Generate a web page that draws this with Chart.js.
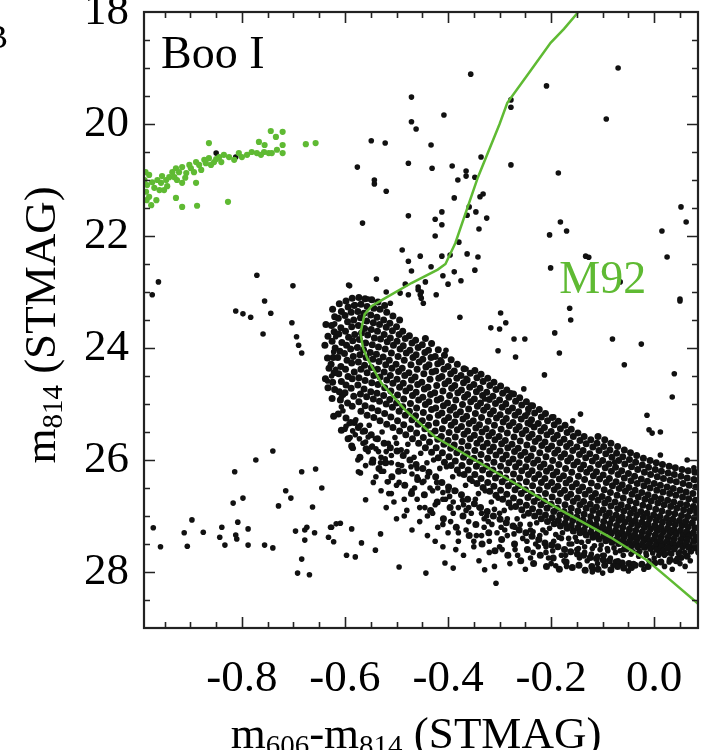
<!DOCTYPE html>
<html>
<head>
<meta charset="utf-8">
<script src="https://cdn.jsdelivr.net/npm/chart.js@4.4.1/dist/chart.umd.min.js"></script>
<style>
  html, body { margin: 0; padding: 0; background: #fff; overflow: hidden; }
  #cmd { display: block; }
</style>
</head>
<body>
<canvas id="cmd" width="702" height="750"></canvas>
<script>
// Axis ranges and tick labels
const xRange = [-0.99, 0.085];
const yRange = [18, 29];
const xTickValues = [-0.8, -0.6, -0.4, -0.2, 0.0];
const yTickValues = [18, 20, 22, 24, 26, 28];

// M92 fiducial ridge line (color, magnitude)
const m92Ridge = [
  [-0.14, 17.85], [-0.149, 18.02], [-0.175, 18.3], [-0.201, 18.55], [-0.24, 19.05],
  [-0.285, 19.62], [-0.30, 20.0], [-0.342, 20.95], [-0.386, 22.13], [-0.405, 22.5],
  [-0.42, 22.6], [-0.471, 22.84], [-0.522, 23.11], [-0.548, 23.25], [-0.562, 23.4],
  [-0.570, 23.73], [-0.565, 24.0], [-0.556, 24.2], [-0.529, 24.63], [-0.483, 25.11],
  [-0.425, 25.59], [-0.348, 26.0], [-0.271, 26.41], [-0.182, 26.89], [-0.085, 27.38],
  [-0.014, 27.79], [0.031, 28.14], [0.083, 28.55], [0.10, 28.7]
];

// Horizontal branch stars (green)
const hbStars = [
  [-0.989,21.0],[-0.984,21.09],[-0.986,21.21],[-0.974,21.04],[-0.964,21.0],[-0.957,21.05],[-0.947,21.0],
  [-0.970,21.14],[-0.980,21.30],[-0.966,21.36],[-0.976,21.45],[-0.941,20.95],[-0.935,20.86],[-0.928,20.79],
  [-0.922,20.86],[-0.916,20.77],[-0.908,20.875],[-0.899,20.79],[-0.889,20.68],[-0.883,20.73],[-0.873,20.64],
  [-0.864,20.61],[-0.854,20.68],[-0.844,20.59],[-0.835,20.55],[-0.825,20.59],[-0.800,20.59],[-0.790,20.55],
  [-0.781,20.5],[-0.771,20.52],[-0.757,20.5],[-0.748,20.52],[-0.742,20.52],[-0.721,20.52],[-0.721,20.375],
  [-0.734,20.23],[-0.744,20.125],[-0.721,20.14],[-0.767,20.32],[-0.864,20.34],[-0.676,20.36],[-0.657,20.34],
  [-0.916,21.05],[-0.889,21.05],[-0.928,21.32],[-0.916,21.48],[-0.887,21.46],[-0.827,21.39],[-0.931,20.95],
  [-0.902,20.73],[-0.870,20.70],[-0.850,20.625],[-0.987,20.86],[-0.985,21.36],[-0.980,20.91],[-0.960,21.18],
  [-0.951,21.18],[-0.945,21.11],[-0.955,20.93],[-0.926,21.0],[-0.910,20.96],[-0.893,20.86],[-0.879,20.82],
  [-0.860,20.73],[-0.840,20.68],[-0.815,20.64],[-0.806,20.52],[-0.763,20.55],[-0.732,20.46],[-0.756,20.375]
];

// Sparse field / outlying stars (black)
const fieldStars = [
  [-0.962,22.82],[-0.974,23.05],[-0.771,22.70],[-0.756,23.16],[-0.744,23.38],[-0.812,23.34],[-0.798,23.39],
  [-0.783,23.45],[-0.759,23.75],[-0.701,22.89],[-0.703,23.55],[-0.694,23.80],[-0.690,23.95],[-0.684,24.09],
  [-0.620,23.57],[-0.618,23.80],[-0.622,24.07],[-0.618,24.38],[-0.626,24.50],[-0.634,24.59],
  [-0.972,27.21],[-0.958,27.55],[-0.912,27.30],[-0.906,27.54],[-0.897,27.07],[-0.875,27.29],[-0.839,27.20],
  [-0.843,27.38],[-0.833,27.52],[-0.814,26.21],[-0.817,26.77],[-0.798,26.68],[-0.808,27.11],[-0.812,27.34],
  [-0.810,27.41],[-0.788,27.23],[-0.788,27.52],[-0.773,26.0],[-0.740,25.84],[-0.756,27.52],[-0.740,27.57],
  [-0.729,26.82],[-0.715,26.55],[-0.705,26.68],[-0.696,27.27],[-0.684,26.21],[-0.657,26.16],[-0.645,26.50],
  [-0.663,26.84],[-0.678,27.25],[-0.674,27.20],[-0.678,27.43],[-0.659,27.30],[-0.684,27.77],[-0.692,28.02],
  [-0.669,28.05],[-0.632,27.38],[-0.626,27.20],[-0.622,27.46],[-0.617,27.14],[-0.587,27.23],[-0.597,27.70],
  [-0.580,27.73],[-0.589,25.34],[-0.586,25.79],
  [-0.408,19.84],[-0.471,19.96],[-0.462,20.09],[-0.549,20.30],[-0.522,20.34],[-0.433,20.375],[-0.576,20.77],
  [-0.477,20.70],[-0.431,20.79],[-0.392,20.75],[-0.365,20.84],[-0.365,20.93],[-0.348,20.95],[-0.381,21.0],
  [-0.336,20.59],[-0.543,21.0],[-0.543,21.07],[-0.520,21.20],[-0.388,21.32],[-0.338,21.30],[-0.332,21.25],
  [-0.359,21.48],[-0.346,21.57],[-0.325,21.68],[-0.363,21.63],[-0.566,21.77],[-0.477,21.64],[-0.425,21.70],
  [-0.412,21.57],[-0.412,21.80],[-0.425,22.0],[-0.340,21.875],[-0.379,22.11],[-0.489,22.25],[-0.454,22.36],
  [-0.477,22.45],[-0.412,22.36],[-0.396,22.34],[-0.363,22.32],[-0.342,22.375],[-0.348,22.61],[-0.388,22.64],
  [-0.375,22.80],[-0.410,22.71],[-0.400,22.86],[-0.433,22.55],[-0.471,22.625],[-0.539,22.77],[-0.591,22.89],
  [-0.483,22.86],[-0.458,22.91],[-0.452,23.0],[-0.444,22.82],[-0.520,23.0],[-0.512,23.20],[-0.555,23.125],
  [-0.423,23.05],[-0.477,23.05],[-0.454,23.05],[-0.493,23.02],[-0.580,23.23],[-0.458,22.96],[-0.452,23.11],
  [-0.448,23.2],[-0.471,19.52],[-0.356,19.11],
  [-0.070,19.0],[-0.209,19.32],[-0.278,19.57],[-0.278,19.70],[-0.093,19.91],[-0.278,20.73],[-0.186,20.875],
  [0.052,21.48],[0.062,21.75],[-0.182,21.75],[-0.170,21.91],[-0.203,21.98],[0.015,21.91],[0.025,22.375],
  [-0.133,22.36],[-0.127,22.38],[-0.201,22.57],[-0.066,22.82],[0.050,23.125],
  [-0.377,23.45],[-0.298,23.375],[-0.288,23.55],[-0.317,23.64],[-0.300,23.66],[-0.164,23.29],[-0.162,23.5],
  [0.050,23.16],[-0.272,23.84],[-0.251,23.84],[-0.193,23.73],[-0.303,24.05],[-0.269,24.16],[-0.184,24.09],
  [-0.081,23.84],[-0.025,23.93],[-0.058,24.30],[-0.213,24.48],[0.039,24.46],[0.035,24.875],[-0.014,25.20],
  [-0.143,25.18],[-0.158,25.30],[-0.195,25.23],[0.012,25.5],[0.012,25.91],[0.064,26.0],[0.077,26.14],
  [-0.077,26.04],[-0.245,25.16],[-0.240,25.375],[-0.332,24.59],[-0.253,24.73],[-0.240,25.02],[-0.278,24.80],
  [-0.288,24.98],[-0.329,24.91],[-0.365,24.375],[-0.365,24.54],[-0.404,24.04],[-0.415,24.21],
  [-0.593,22.875],[-0.603,24.84],[-0.589,25.32],[-0.584,25.79],[-0.570,26.23],[-0.549,26.05],[-0.531,26.05],
  [-0.518,26.39],[-0.560,26.71],[-0.628,27.2],[-0.609,27.13],[-0.531,27.32],[-0.568,27.48],[-0.541,27.61],
  [-0.495,27.91],[-0.443,28.02],[-0.406,27.84],[-0.390,27.93],[-0.329,27.96],[-0.307,28.20],[-0.191,27.89],
  [-0.120,27.96],[-0.100,28.02],[-0.046,27.91],
  [-0.010,25.46],[-0.004,25.52],[0.079,26.36],[0.079,26.86],[-0.043,27.93],[0.029,27.82],
  [-0.607,24.875],[-0.607,25.05],[-0.570,25.38],[-0.555,25.59],[-0.549,25.77],[-0.587,25.77],[-0.545,26.05],
  [-0.574,26.21],[-0.516,26.39],
  [-0.850,20.52],[-0.812,20.59]
];

// Stars scattered below the main band (binaries / photometric scatter)
const lowerStars = [
  [-0.54,26.3],[-0.53,26.55],[-0.52,26.85],[-0.51,26.6],[-0.5,27.05],[-0.495,26.4],[-0.48,26.9],[-0.47,27.25],
  [-0.46,26.7],[-0.455,27.1],[-0.44,27.35],[-0.43,26.95],[-0.42,27.2],[-0.41,27.55],[-0.4,27.3],[-0.39,26.95],
  [-0.38,27.45],[-0.37,27.7],[-0.36,27.1],[-0.35,27.55],[-0.34,27.8],[-0.33,27.2],[-0.32,27.65],[-0.31,27.9],
  [-0.3,27.55],[-0.29,27.25],[-0.28,27.85],[-0.27,27.6],[-0.25,27.95],[-0.24,27.75],[-0.23,27.5],[-0.21,27.65],
  [-0.2,27.85],[-0.18,27.7],[-0.17,27.9],[-0.15,27.6],[-0.13,27.8],[-0.12,28.0],[-0.1,27.7],[-0.08,27.88],
  [-0.06,27.7],[-0.05,27.98],[-0.03,27.72],[-0.02,27.95],[0.0,27.75],[0.02,27.7],[0.035,27.95],[0.05,27.85],
  [0.07,27.8],[0.085,27.65],[-0.525,26.2],[-0.505,26.75],[-0.485,27.0],[-0.465,26.5],[-0.445,26.85],
  [-0.425,27.45],[-0.405,26.7],[-0.385,27.6],[-0.365,26.9],[-0.345,27.35],[-0.325,27.0],[-0.305,27.3],
  [-0.6,25.45],[-0.59,25.6],[-0.58,25.55],[-0.565,25.7],[-0.555,25.85],[-0.54,25.8],[-0.53,25.95],[-0.52,25.85],
  [-0.51,26.05],[-0.5,25.7],[-0.49,26.1],[-0.48,25.85],[-0.47,26.25],[-0.46,26.15],[-0.45,26.4],[-0.44,26.3],
  [-0.43,26.55],[-0.42,26.5],[-0.41,26.7],[-0.4,26.55],[-0.39,26.75],[-0.38,26.85],[-0.37,26.8],[-0.355,26.95],
  [-0.34,26.85],[-0.33,27.05],[-0.315,27.15],[-0.3,26.95],[-0.285,27.35],[-0.27,27.2],[-0.255,27.4],[-0.24,27.25],
  [-0.225,27.55],[-0.21,27.3],[-0.195,27.45],[-0.18,27.4],[-0.165,27.5],[-0.15,27.45],[-0.135,27.55],[-0.12,27.58],
  [-0.105,27.6],[-0.09,27.62],[-0.075,27.65],[-0.06,27.6],[-0.045,27.68],[-0.03,27.65],[-0.015,27.7],[0.01,27.68],
  [0.03,27.66],[0.05,27.64],[0.07,27.63],
  [-0.575,26.0],[-0.56,26.1],[-0.545,26.4],[-0.53,26.2],[-0.515,26.6],[-0.5,26.45],[-0.485,26.7],[-0.47,26.55],
  [-0.455,26.85],[-0.44,27.0],[-0.425,26.8],[-0.41,27.15],[-0.395,27.1],[-0.38,27.3],[-0.365,27.25],[-0.35,27.45],
  [-0.335,27.35],[-0.32,27.45],[-0.295,27.6],[-0.265,27.7],[-0.235,27.65],[-0.205,27.75],[-0.175,27.8],[-0.145,27.75],
  [-0.11,27.85],[-0.07,27.8],[-0.04,27.85],[-0.01,27.8],[0.02,27.9],[0.045,27.75],[0.06,27.9],
  [-0.604,25.12],[-0.592,25.35],[-0.579,25.28],[-0.566,25.5],[-0.553,25.38],[-0.541,25.62],[-0.528,25.5],[-0.516,25.7],
  [-0.503,25.6],[-0.491,25.82],[-0.478,25.72],[-0.466,25.95],[-0.453,25.88],[-0.441,26.05],[-0.428,26.0],[-0.416,26.15],
  [-0.403,26.12],[-0.391,26.3],[-0.378,26.25],[-0.366,26.45],[-0.353,26.38],[-0.341,26.6],[-0.328,26.55],[-0.316,26.75],
  [-0.303,26.68],[-0.291,26.9],[-0.278,26.85],[-0.266,27.05],[-0.253,27.0],[-0.241,27.15],[-0.228,27.12],[-0.216,27.25],
  [-0.203,27.22],[-0.191,27.33],[-0.178,27.3],[-0.166,27.4],[-0.153,27.38],[-0.141,27.47],[-0.128,27.45],[-0.116,27.53],
  [-0.103,27.52],[-0.091,27.58],[-0.078,27.57],[-0.066,27.62],[-0.053,27.6],[-0.041,27.64],[-0.028,27.63],[-0.016,27.66],
  [-0.003,27.66],[0.009,27.7],[0.022,27.68],[0.034,27.68],[0.047,27.67],[0.059,27.65],[0.072,27.64],
  [-0.598,25.4],[-0.585,25.48],[-0.572,25.62],[-0.56,25.68],[-0.547,25.75],[-0.535,25.85],[-0.522,25.98],[-0.51,25.92],
  [-0.497,26.08],[-0.485,26.2],[-0.472,26.12],[-0.46,26.3],[-0.447,26.38],[-0.435,26.5],[-0.422,26.4],[-0.41,26.58],
  [-0.397,26.65],[-0.385,26.55],[-0.372,26.72],[-0.36,26.85],[-0.347,26.7],[-0.335,26.95],[-0.322,27.1],[-0.31,26.88],
  [-0.297,27.2],[-0.285,27.05],[-0.272,27.32],[-0.26,27.15],[-0.247,27.45],[-0.235,27.28],[-0.222,27.35],[-0.21,27.55],
  [-0.197,27.62],[-0.185,27.38],[-0.172,27.7],[-0.16,27.5],[-0.147,27.58],[-0.135,27.65],[-0.122,27.68],[-0.11,27.72],
  [-0.097,27.7],[-0.085,27.75]
];

// Main sequence / turnoff band (black, dense)
const bandStars = [
  [-0.637,23.58],[-0.633,23.79],[-0.639,23.95],[-0.634,24.18],[-0.631,24.36],[-0.638,24.55],[-0.633,24.71],
  [-0.624,23.31],[-0.620,23.44],[-0.626,23.6],[-0.621,23.71],[-0.625,23.88],[-0.619,24.0],[-0.623,24.17],[-0.627,24.29],[-0.621,24.44],[-0.624,24.61],[-0.620,24.74],[-0.625,24.9],[-0.622,25.22],
  [-0.611,23.21],[-0.607,23.35],[-0.613,23.47],[-0.608,23.64],[-0.612,23.75],[-0.606,23.9],[-0.61,24.06],[-0.614,24.17],[-0.608,24.33],[-0.612,24.46],[-0.607,24.6],[-0.611,24.78],[-0.609,24.93],[-0.613,25.18],[-0.607,25.47],
  [-0.598,23.16],[-0.594,23.27],[-0.6,23.42],[-0.595,23.53],[-0.599,23.7],[-0.593,23.81],[-0.597,23.95],[-0.601,24.1],[-0.596,24.22],[-0.599,24.38],[-0.594,24.51],[-0.598,24.66],[-0.6,24.8],[-0.595,24.98],[-0.598,25.25],[-0.594,25.62],
  [-0.586,23.11],[-0.582,23.24],[-0.588,23.36],[-0.583,23.5],[-0.587,23.62],[-0.581,23.76],[-0.585,23.87],[-0.589,24.02],[-0.584,24.15],[-0.587,24.27],[-0.582,24.43],[-0.586,24.55],[-0.588,24.72],[-0.583,24.86],[-0.586,25.04],[-0.582,25.33],[-0.587,25.75],
  [-0.573,23.1],[-0.569,23.22],[-0.575,23.35],[-0.57,23.46],[-0.574,23.6],[-0.568,23.73],[-0.572,23.85],[-0.576,23.99],[-0.571,24.12],[-0.574,24.25],[-0.569,24.38],[-0.573,24.53],[-0.575,24.66],[-0.57,24.82],[-0.573,24.96],[-0.569,25.13],[-0.574,25.42],[-0.571,25.95],
  [-0.561,23.12],[-0.557,23.26],[-0.563,23.38],[-0.558,23.52],[-0.562,23.65],[-0.556,23.77],[-0.56,23.91],[-0.564,24.03],[-0.559,24.17],[-0.562,24.31],[-0.557,24.44],[-0.561,24.58],[-0.563,24.73],[-0.558,24.87],[-0.561,25.03],[-0.557,25.2],[-0.562,25.48],[-0.559,25.8],
  [-0.548,23.14],[-0.544,23.29],[-0.55,23.41],[-0.545,23.55],[-0.549,23.67],[-0.543,23.82],[-0.547,23.94],[-0.551,24.08],[-0.546,24.2],[-0.549,24.35],[-0.544,24.49],[-0.548,24.62],[-0.55,24.78],[-0.545,24.91],[-0.548,25.07],[-0.544,25.24],[-0.549,25.55],[-0.546,26.0],
  [-0.536,23.18],[-0.532,23.31],[-0.538,23.45],[-0.533,23.58],[-0.537,23.7],[-0.531,23.84],[-0.535,23.98],[-0.539,24.11],[-0.534,24.24],[-0.537,24.38],[-0.532,24.52],[-0.536,24.65],[-0.538,24.81],[-0.533,24.95],[-0.536,25.12],[-0.532,25.3],[-0.537,25.62],[-0.534,26.15],
  [-0.523,23.24],[-0.519,23.36],[-0.525,23.5],[-0.52,23.63],[-0.524,23.76],[-0.518,23.89],[-0.522,24.02],[-0.526,24.16],[-0.521,24.3],[-0.524,24.43],[-0.519,24.57],[-0.523,24.71],[-0.525,24.85],[-0.52,25.0],[-0.523,25.17],[-0.519,25.36],[-0.524,25.7],[-0.521,26.05],
  [-0.507,23.43],[-0.513,23.56],[-0.508,23.69],[-0.512,23.82],[-0.506,23.95],[-0.51,24.09],[-0.514,24.22],[-0.509,24.36],[-0.512,24.49],[-0.507,24.63],[-0.511,24.77],[-0.513,24.92],[-0.508,25.06],[-0.511,25.23],[-0.507,25.42],[-0.512,25.78],[-0.509,26.3],
  [-0.494,23.5],[-0.5,23.62],[-0.495,23.76],[-0.499,23.88],[-0.493,24.02],[-0.497,24.15],[-0.501,24.29],[-0.496,24.42],[-0.499,24.56],[-0.494,24.7],[-0.498,24.84],[-0.5,24.98],[-0.495,25.13],[-0.498,25.3],[-0.494,25.48],[-0.499,25.84],[-0.496,26.2],
  [-0.488,23.7],[-0.483,23.83],[-0.487,23.96],[-0.481,24.09],[-0.485,24.22],[-0.489,24.36],[-0.484,24.49],[-0.487,24.63],[-0.482,24.77],[-0.486,24.91],[-0.488,25.05],[-0.483,25.2],[-0.486,25.37],[-0.482,25.55],[-0.487,25.92],[-0.484,26.45],
  [-0.475,23.78],[-0.47,23.91],[-0.474,24.04],[-0.468,24.17],[-0.472,24.3],[-0.476,24.44],[-0.471,24.57],[-0.474,24.71],[-0.469,24.85],[-0.473,24.99],[-0.475,25.13],[-0.47,25.28],[-0.473,25.44],[-0.469,25.62],[-0.474,26.0],[-0.471,26.6],
  [-0.463,23.86],[-0.458,23.99],[-0.462,24.12],[-0.456,24.25],[-0.46,24.38],[-0.464,24.52],[-0.459,24.65],[-0.462,24.79],[-0.457,24.93],[-0.461,25.07],[-0.463,25.21],[-0.458,25.36],[-0.461,25.52],[-0.457,25.7],[-0.462,26.08],[-0.459,26.35],
  [-0.444,23.83],[-0.45,23.94],[-0.445,24.08],[-0.449,24.2],[-0.443,24.34],[-0.447,24.46],[-0.451,24.61],[-0.446,24.73],[-0.449,24.88],[-0.444,25.01],[-0.448,25.15],[-0.45,25.3],[-0.445,25.44],[-0.448,25.6],[-0.444,25.78],[-0.449,26.15],[-0.446,26.62],
  [-0.432,23.92],[-0.438,24.04],[-0.433,24.17],[-0.437,24.3],[-0.431,24.43],[-0.435,24.56],[-0.439,24.7],[-0.434,24.83],[-0.437,24.96],[-0.432,25.1],[-0.436,25.24],[-0.438,25.38],[-0.433,25.53],[-0.436,25.68],[-0.432,25.86],[-0.437,26.22],[-0.434,26.9],
  [-0.419,24.03],[-0.425,24.15],[-0.42,24.28],[-0.424,24.41],[-0.418,24.54],[-0.422,24.67],[-0.426,24.8],[-0.421,24.93],[-0.424,25.07],[-0.419,25.2],[-0.423,25.34],[-0.425,25.48],[-0.42,25.63],[-0.423,25.78],[-0.419,25.96],[-0.424,26.3],[-0.421,26.75],
  [-0.407,24.13],[-0.413,24.25],[-0.408,24.38],[-0.412,24.51],[-0.406,24.64],[-0.41,24.77],[-0.414,24.9],[-0.409,25.03],[-0.412,25.16],[-0.407,25.3],[-0.411,25.44],[-0.413,25.58],[-0.408,25.72],[-0.411,25.87],[-0.407,26.04],[-0.412,26.4],[-0.409,27.05],
  [-0.394,24.21],[-0.4,24.33],[-0.395,24.46],[-0.399,24.59],[-0.393,24.72],[-0.397,24.85],[-0.401,24.98],[-0.396,25.11],[-0.399,25.24],[-0.394,25.38],[-0.398,25.51],[-0.4,25.65],[-0.395,25.79],[-0.398,25.94],[-0.394,26.1],[-0.399,26.48],[-0.396,26.85],
  [-0.382,24.29],[-0.388,24.41],[-0.383,24.54],[-0.387,24.67],[-0.381,24.8],[-0.385,24.93],[-0.389,25.06],[-0.384,25.19],[-0.387,25.32],[-0.382,25.46],[-0.386,25.59],[-0.388,25.73],[-0.383,25.87],[-0.386,26.02],[-0.382,26.18],[-0.387,26.55],[-0.384,27.2],
  [-0.369,24.37],[-0.375,24.49],[-0.37,24.62],[-0.374,24.75],[-0.368,24.88],[-0.372,25.01],[-0.376,25.14],[-0.371,25.27],[-0.374,25.4],[-0.369,25.54],[-0.373,25.67],[-0.375,25.81],[-0.37,25.95],[-0.373,26.1],[-0.369,26.26],[-0.374,26.62],[-0.371,27.0],
  [-0.357,24.45],[-0.363,24.57],[-0.358,24.7],[-0.362,24.83],[-0.356,24.96],[-0.36,25.09],[-0.364,25.22],[-0.359,25.35],[-0.362,25.48],[-0.357,25.62],[-0.361,25.75],[-0.363,25.89],[-0.358,26.03],[-0.361,26.18],[-0.357,26.34],[-0.362,26.7],[-0.359,27.35],
  [-0.348,24.4],[-0.344,24.53],[-0.35,24.65],[-0.345,24.78],[-0.349,24.91],[-0.343,25.04],[-0.347,25.17],[-0.351,25.3],[-0.346,25.43],[-0.349,25.56],[-0.344,25.7],[-0.348,25.83],[-0.35,25.97],[-0.345,26.11],[-0.348,26.26],[-0.344,26.42],[-0.349,26.78],[-0.346,27.15],
  [-0.336,24.47],[-0.332,24.6],[-0.338,24.72],[-0.333,24.85],[-0.337,24.98],[-0.331,25.11],[-0.335,25.24],[-0.339,25.37],[-0.334,25.5],[-0.337,25.63],[-0.332,25.77],[-0.336,25.9],[-0.338,26.04],[-0.333,26.18],[-0.336,26.33],[-0.332,26.49],[-0.337,26.85],[-0.334,27.5],
  [-0.323,24.54],[-0.319,24.67],[-0.325,24.79],[-0.32,24.92],[-0.324,25.05],[-0.318,25.18],[-0.322,25.31],[-0.326,25.44],[-0.321,25.57],[-0.324,25.7],[-0.319,25.84],[-0.323,25.97],[-0.325,26.11],[-0.32,26.25],[-0.323,26.4],[-0.319,26.56],[-0.324,26.92],[-0.321,27.3],
  [-0.311,24.61],[-0.307,24.74],[-0.313,24.86],[-0.308,24.99],[-0.312,25.12],[-0.306,25.25],[-0.31,25.38],[-0.314,25.51],[-0.309,25.64],[-0.312,25.77],[-0.307,25.91],[-0.311,26.04],[-0.313,26.18],[-0.308,26.32],[-0.311,26.47],[-0.307,26.63],[-0.312,27.0],[-0.309,27.62],
  [-0.298,24.68],[-0.294,24.81],[-0.3,24.93],[-0.295,25.06],[-0.299,25.19],[-0.293,25.32],[-0.297,25.45],[-0.301,25.58],[-0.296,25.71],[-0.299,25.84],[-0.294,25.98],[-0.298,26.11],[-0.3,26.25],[-0.295,26.39],[-0.298,26.54],[-0.294,26.7],[-0.299,27.06],[-0.296,27.42],
  [-0.286,24.75],[-0.282,24.88],[-0.288,25.0],[-0.283,25.13],[-0.287,25.26],[-0.281,25.39],[-0.285,25.52],[-0.289,25.65],[-0.284,25.78],[-0.287,25.91],[-0.282,26.05],[-0.286,26.18],[-0.288,26.32],[-0.283,26.46],[-0.286,26.61],[-0.282,26.77],[-0.287,27.12],[-0.284,27.7],
  [-0.273,24.82],[-0.269,24.95],[-0.275,25.07],[-0.27,25.2],[-0.274,25.33],[-0.268,25.46],[-0.272,25.59],[-0.276,25.72],[-0.271,25.85],[-0.274,25.98],[-0.269,26.12],[-0.273,26.25],[-0.275,26.39],[-0.27,26.53],[-0.273,26.68],[-0.269,26.83],[-0.274,27.18],[-0.271,27.5],
  [-0.261,24.89],[-0.257,25.02],[-0.263,25.14],[-0.258,25.27],[-0.262,25.4],[-0.256,25.53],[-0.26,25.66],[-0.264,25.79],[-0.259,25.92],[-0.262,26.05],[-0.257,26.19],[-0.261,26.32],[-0.263,26.46],[-0.258,26.6],[-0.261,26.75],[-0.257,26.89],[-0.262,27.25],[-0.259,27.8],
  [-0.248,24.96],[-0.244,25.09],[-0.25,25.21],[-0.245,25.34],[-0.249,25.47],[-0.243,25.6],[-0.247,25.73],[-0.251,25.86],[-0.246,25.99],[-0.249,26.12],[-0.244,26.26],[-0.248,26.39],[-0.25,26.53],[-0.245,26.67],[-0.248,26.81],[-0.244,26.95],[-0.249,27.3],[-0.246,27.6],
  [-0.236,25.03],[-0.232,25.16],[-0.238,25.28],[-0.233,25.41],[-0.237,25.54],[-0.231,25.67],[-0.235,25.8],[-0.239,25.93],[-0.234,26.06],[-0.237,26.19],[-0.232,26.33],[-0.236,26.46],[-0.238,26.6],[-0.233,26.74],[-0.236,26.87],[-0.232,27.0],[-0.237,27.36],[-0.234,27.85],
  [-0.223,25.1],[-0.219,25.23],[-0.225,25.35],[-0.22,25.48],[-0.224,25.61],[-0.218,25.74],[-0.222,25.87],[-0.226,26.0],[-0.221,26.13],[-0.224,26.26],[-0.219,26.4],[-0.223,26.53],[-0.225,26.67],[-0.22,26.8],[-0.223,26.93],[-0.219,27.05],[-0.224,27.42],[-0.221,27.7],
  [-0.211,25.17],[-0.207,25.3],[-0.213,25.42],[-0.208,25.55],[-0.212,25.68],[-0.206,25.81],[-0.21,25.94],[-0.214,26.07],[-0.209,26.2],[-0.212,26.33],[-0.207,26.47],[-0.211,26.6],[-0.213,26.73],[-0.208,26.86],[-0.211,26.98],[-0.207,27.1],[-0.212,27.48],[-0.209,27.9],
  [-0.198,25.24],[-0.194,25.37],[-0.2,25.49],[-0.195,25.62],[-0.199,25.75],[-0.193,25.88],[-0.197,26.01],[-0.201,26.14],[-0.196,26.27],[-0.199,26.4],[-0.194,26.53],[-0.198,26.66],[-0.2,26.79],[-0.195,26.92],[-0.198,27.03],[-0.194,27.14],[-0.199,27.52],[-0.196,27.75],
  [-0.186,25.31],[-0.182,25.44],[-0.188,25.56],[-0.183,25.69],[-0.187,25.82],[-0.181,25.95],[-0.185,26.08],[-0.189,26.21],[-0.184,26.34],[-0.187,26.47],[-0.182,26.6],[-0.186,26.73],[-0.188,26.86],[-0.183,26.98],[-0.186,27.08],[-0.182,27.18],[-0.187,27.55],[-0.184,27.95],
  [-0.173,25.38],[-0.169,25.51],[-0.175,25.63],[-0.17,25.76],[-0.174,25.89],[-0.168,26.02],[-0.172,26.15],[-0.176,26.28],[-0.171,26.41],[-0.174,26.54],[-0.169,26.67],[-0.173,26.8],[-0.175,26.92],[-0.17,27.03],[-0.173,27.13],[-0.169,27.22],[-0.174,27.6],[-0.171,27.82],
  [-0.161,25.45],[-0.157,25.58],[-0.163,25.7],[-0.158,25.83],[-0.162,25.96],[-0.156,26.09],[-0.16,26.22],[-0.164,26.35],[-0.159,26.48],[-0.162,26.61],[-0.157,26.74],[-0.161,26.86],[-0.163,26.97],[-0.158,27.08],[-0.161,27.17],[-0.157,27.27],[-0.162,27.64],[-0.159,27.92],
  [-0.148,25.52],[-0.144,25.65],[-0.15,25.77],[-0.145,25.9],[-0.149,26.03],[-0.143,26.16],[-0.147,26.29],[-0.151,26.42],[-0.146,26.55],[-0.149,26.68],[-0.144,26.8],[-0.148,26.91],[-0.15,27.02],[-0.145,27.12],[-0.148,27.21],[-0.144,27.3],[-0.149,27.68],[-0.146,27.88],
  [-0.136,25.58],[-0.132,25.71],[-0.138,25.83],[-0.133,25.96],[-0.137,26.09],[-0.131,26.22],[-0.135,26.35],[-0.139,26.48],[-0.134,26.61],[-0.137,26.74],[-0.132,26.86],[-0.136,26.97],[-0.138,27.07],[-0.133,27.16],[-0.136,27.25],[-0.132,27.34],[-0.137,27.7],[-0.134,27.97],
  [-0.123,25.64],[-0.119,25.77],[-0.125,25.89],[-0.12,26.02],[-0.124,26.15],[-0.118,26.28],[-0.122,26.41],[-0.126,26.54],[-0.121,26.67],[-0.124,26.79],[-0.119,26.9],[-0.123,27.01],[-0.125,27.11],[-0.12,27.2],[-0.123,27.29],[-0.119,27.38],[-0.124,27.74],[-0.121,27.9],
  [-0.109,25.58],[-0.111,25.7],[-0.107,25.83],[-0.113,25.95],[-0.108,26.08],[-0.112,26.21],[-0.106,26.34],[-0.11,26.47],[-0.114,26.6],[-0.109,26.72],[-0.112,26.84],[-0.107,26.95],[-0.111,27.05],[-0.113,27.15],[-0.108,27.24],[-0.111,27.32],[-0.107,27.41],[-0.112,27.76],[-0.109,27.95],
  [-0.096,25.64],[-0.098,25.76],[-0.094,25.89],[-0.1,26.01],[-0.095,26.14],[-0.099,26.27],[-0.093,26.4],[-0.097,26.53],[-0.101,26.65],[-0.096,26.77],[-0.099,26.89],[-0.094,27.0],[-0.098,27.1],[-0.1,27.19],[-0.095,27.28],[-0.098,27.36],[-0.094,27.44],[-0.099,27.78],[-0.096,27.88],
  [-0.084,25.7],[-0.086,25.82],[-0.082,25.95],[-0.088,26.07],[-0.083,26.2],[-0.087,26.33],[-0.081,26.46],[-0.085,26.58],[-0.089,26.7],[-0.084,26.82],[-0.087,26.94],[-0.082,27.05],[-0.086,27.14],[-0.088,27.23],[-0.083,27.31],[-0.086,27.39],[-0.082,27.47],[-0.087,27.8],[-0.084,27.96],
  [-0.071,25.76],[-0.073,25.88],[-0.069,26.01],[-0.075,26.13],[-0.07,26.26],[-0.074,26.39],[-0.068,26.51],[-0.072,26.63],[-0.076,26.75],[-0.071,26.87],[-0.074,26.98],[-0.069,27.08],[-0.073,27.17],[-0.075,27.26],[-0.07,27.34],[-0.073,27.42],[-0.069,27.49],[-0.074,27.82],[-0.071,27.9],
  [-0.058,25.82],[-0.061,25.94],[-0.057,26.07],[-0.063,26.19],[-0.058,26.32],[-0.062,26.44],[-0.056,26.56],[-0.06,26.68],[-0.064,26.8],[-0.059,26.91],[-0.062,27.02],[-0.057,27.11],[-0.061,27.2],[-0.063,27.29],[-0.058,27.37],[-0.061,27.44],[-0.057,27.51],[-0.062,27.84],[-0.059,27.93],
  [-0.046,25.87],[-0.048,25.99],[-0.044,26.12],[-0.05,26.24],[-0.045,26.37],[-0.049,26.49],[-0.043,26.61],[-0.047,26.73],[-0.051,26.84],[-0.046,26.95],[-0.049,27.05],[-0.044,27.14],[-0.048,27.23],[-0.05,27.31],[-0.045,27.39],[-0.048,27.46],[-0.044,27.53],[-0.049,27.85],
  [-0.034,25.92],[-0.036,26.04],[-0.032,26.17],[-0.038,26.29],[-0.033,26.42],[-0.037,26.54],[-0.031,26.66],[-0.035,26.77],[-0.039,26.88],[-0.034,26.98],[-0.037,27.08],[-0.032,27.17],[-0.036,27.26],[-0.038,27.34],[-0.033,27.41],[-0.036,27.48],[-0.032,27.55],[-0.037,27.88],
  [-0.021,25.97],[-0.023,26.09],[-0.019,26.22],[-0.025,26.34],[-0.02,26.46],[-0.024,26.58],[-0.018,26.7],[-0.022,26.81],[-0.026,26.92],[-0.021,27.02],[-0.024,27.11],[-0.019,27.2],[-0.023,27.28],[-0.025,27.36],[-0.02,27.43],[-0.023,27.5],[-0.019,27.56],[-0.024,27.86],
  [-0.008,26.01],[-0.011,26.13],[-0.007,26.26],[-0.013,26.38],[-0.008,26.5],[-0.012,26.62],[-0.006,26.73],[-0.01,26.84],[-0.014,26.95],[-0.009,27.05],[-0.012,27.14],[-0.007,27.23],[-0.011,27.31],[-0.013,27.39],[-0.008,27.46],[-0.011,27.52],[-0.007,27.58],[-0.012,27.9],
  [0.004,26.05],[0.002,26.17],[0.006,26.3],[0.0,26.42],[0.005,26.54],[0.001,26.66],[0.007,26.77],[0.003,26.88],[-0.001,26.98],[0.004,27.08],[0.001,27.17],[0.006,27.26],[0.002,27.34],[0.0,27.41],[0.005,27.48],[0.002,27.54],[0.006,27.6],[0.001,27.84],
  [0.016,26.08],[0.014,26.2],[0.018,26.33],[0.012,26.45],[0.017,26.57],[0.013,26.69],[0.019,26.8],[0.015,26.91],[0.011,27.01],[0.016,27.11],[0.013,27.2],[0.018,27.28],[0.014,27.36],[0.012,27.43],[0.017,27.5],[0.014,27.56],[0.018,27.62],[0.013,27.82],
  [0.029,26.11],[0.027,26.23],[0.031,26.36],[0.025,26.48],[0.03,26.6],[0.026,26.72],[0.032,26.83],[0.028,26.94],[0.024,27.04],[0.029,27.13],[0.026,27.22],[0.031,27.3],[0.027,27.38],[0.025,27.45],[0.03,27.51],[0.027,27.57],[0.031,27.78],
  [0.041,26.14],[0.039,26.26],[0.043,26.39],[0.037,26.51],[0.042,26.63],[0.038,26.75],[0.044,26.86],[0.04,26.96],[0.036,27.06],[0.041,27.15],[0.038,27.24],[0.043,27.32],[0.039,27.4],[0.037,27.47],[0.042,27.53],[0.039,27.59],[0.043,27.8],
  [0.054,26.17],[0.052,26.29],[0.056,26.42],[0.05,26.54],[0.055,26.66],[0.051,26.78],[0.057,26.89],[0.053,26.99],[0.049,27.08],[0.054,27.17],[0.051,27.26],[0.056,27.34],[0.052,27.42],[0.05,27.49],[0.055,27.55],[0.052,27.74],
  [0.066,26.19],[0.064,26.32],[0.068,26.45],[0.062,26.57],[0.067,26.69],[0.063,26.8],[0.069,26.91],[0.065,27.01],[0.061,27.1],[0.066,27.19],[0.063,27.28],[0.068,27.36],[0.064,27.43],[0.062,27.5],[0.067,27.56],[0.064,27.72],
  [0.079,26.22],[0.077,26.35],[0.081,26.48],[0.075,26.6],[0.08,26.72],[0.076,26.83],[0.082,26.93],[0.078,27.03],[0.074,27.12],[0.079,27.21],[0.076,27.3],[0.081,27.38],[0.077,27.45],[0.075,27.51],[0.08,27.57]
];

const SERIF = "'Liberation Serif', 'Times New Roman', Times, serif";
const GREEN = '#5fba33';
const toXY = arr => arr.map(p => ({ x: p[0], y: p[1] }));

// inward ticks on all four sides plus the frame
const frameTicks = {
  id: 'frameTicks',
  afterDatasetsDraw(chart) {
    const { ctx, chartArea: a, scales: { x, y } } = chart;
    ctx.save();
    ctx.strokeStyle = '#222';
    ctx.lineWidth = 1.6;
    ctx.beginPath();
    for (let v = -0.95; v < xRange[1]; v += 0.05) {
      const major = Math.abs(v * 5 - Math.round(v * 5)) < 1e-6;
      const len = major ? 11 : 6;
      const px = Math.round(x.getPixelForValue(v)) + 0.5;
      ctx.moveTo(px, a.bottom); ctx.lineTo(px, a.bottom - len);
      ctx.moveTo(px, a.top); ctx.lineTo(px, a.top + len);
    }
    for (let v = 18.5; v < yRange[1]; v += 0.5) {
      const major = v % 2 === 0;
      const len = major ? 11 : 6;
      const py = Math.round(y.getPixelForValue(v)) + 0.5;
      ctx.moveTo(a.left, py); ctx.lineTo(a.left + len, py);
      ctx.moveTo(a.right, py); ctx.lineTo(a.right - len, py);
    }
    ctx.stroke();
    ctx.lineWidth = 2.2;
    ctx.strokeRect(a.left, a.top, a.right - a.left, a.bottom - a.top);
    ctx.restore();
  }
};

// draws a run of text with subscripts, centred on cx
function subText(ctx, parts, cx, baseY) {
  const big = '45px ' + SERIF, small = '29px ' + SERIF;
  let w = 0;
  parts.forEach(p => { ctx.font = p.sub ? small : big; w += ctx.measureText(p.t).width; });
  let xPos = cx - w / 2;
  parts.forEach(p => {
    ctx.font = p.sub ? small : big;
    ctx.fillText(p.t, xPos, baseY + (p.sub ? 7 : 0));
    xPos += ctx.measureText(p.t).width;
  });
}

const labels = {
  id: 'labels',
  afterDraw(chart) {
    const { ctx, scales: { x, y } } = chart;
    ctx.save();
    ctx.fillStyle = '#000';
    ctx.textBaseline = 'alphabetic';
    ctx.textAlign = 'left';
    subText(ctx, [{ t: 'm' }, { t: '606', sub: true }, { t: '-m' }, { t: '814', sub: true }, { t: ' (STMAG)' }], 416, 748);
    ctx.save();
    ctx.translate(55, 325);
    ctx.rotate(-Math.PI / 2);
    subText(ctx, [{ t: 'm' }, { t: '814', sub: true }, { t: ' (STMAG)' }], 0, 0);
    ctx.restore();

    ctx.font = '46px ' + SERIF;
    ctx.fillText('Boo I', x.getPixelForValue(-0.957), y.getPixelForValue(19.0));
    ctx.fillStyle = GREEN;
    ctx.fillText('M92', x.getPixelForValue(-0.184), y.getPixelForValue(23.02));

    ctx.fillStyle = '#000';
    ctx.font = '34px ' + SERIF;
    ctx.textAlign = 'right';
    ctx.fillText('B', 8, 48);
    ctx.restore();
  }
};

const ctx = document.getElementById('cmd').getContext('2d');
new Chart(ctx, {
  type: 'scatter',
  data: {
    datasets: [
      {
        label: 'M92',
        data: toXY(m92Ridge),
        showLine: true,
        borderColor: GREEN,
        borderWidth: 2.5,
        pointRadius: 0,
        tension: 0,
        clip: 0
      },
      {
        label: 'HB',
        data: toXY(hbStars),
        backgroundColor: GREEN,
        borderWidth: 0,
        pointRadius: 3.1
      },
      {
        label: 'field',
        data: toXY(fieldStars.concat(lowerStars)),
        backgroundColor: '#111',
        borderWidth: 0,
        pointRadius: 2.8
      },
      {
        label: 'band',
        data: toXY(bandStars),
        backgroundColor: '#111',
        borderWidth: 0,
        pointRadius: 3.5
      }
    ]
  },
  options: {
    responsive: false,
    animation: false,
    layout: { padding: { top: 12, right: 1, left: 0, bottom: 0 } },
    plugins: { legend: { display: false }, tooltip: { enabled: false } },
    events: [],
    scales: {
      x: {
        type: 'linear',
        min: xRange[0],
        max: xRange[1],
        grid: { display: false, drawTicks: false },
        border: { display: false },
        afterBuildTicks: s => { s.ticks = xTickValues.map(v => ({ value: v })); },
        afterFit: s => { s.height = 122; s.paddingLeft = 0; s.paddingRight = 0; },
        ticks: {
          callback: v => v.toFixed(1),
          font: { family: SERIF, size: 45 },
          color: '#000',
          padding: 24,
          maxRotation: 0,
          autoSkip: false
        }
      },
      y: {
        type: 'linear',
        reverse: true,
        min: yRange[0],
        max: yRange[1],
        grid: { display: false, drawTicks: false },
        border: { display: false },
        afterBuildTicks: s => { s.ticks = yTickValues.map(v => ({ value: v })); },
        afterFit: s => { s.width = 144; s.paddingTop = 0; s.paddingBottom = 0; },
        ticks: {
          font: { family: SERIF, size: 45 },
          color: '#000',
          padding: 15,
          autoSkip: false
        }
      }
    }
  },
  plugins: [frameTicks, labels]
});
</script>
</body>
</html>
